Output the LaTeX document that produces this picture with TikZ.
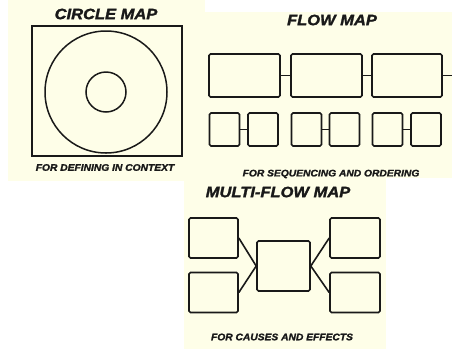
\documentclass[tikz,border=0pt]{standalone}
\usepackage{fontspec}
\setmainfont{Liberation Sans}
\newfontfamily\heavyfont[FakeBold=1.6]{Liberation Sans}
\definecolor{paper}{RGB}{254,254,232}
\definecolor{ink}{RGB}{25,25,25}
\begin{document}
\begin{tikzpicture}[x=1pt, y=-1pt,
  panel/.style={fill=paper, draw=none},
  maptitle/.style={font=\heavyfont\fontsize{15}{15}\selectfont\bfseries\itshape, text=ink, inner sep=0pt, xscale=1.1},
  caption/.style={font=\heavyfont\fontsize{9.5}{9.5}\selectfont\bfseries\itshape, text=ink, inner sep=0pt, xscale=1.08},
  frame/.style={draw=ink, line width=1.6pt, rounded corners=1.5pt, inner sep=0pt},
  link/.style={draw=ink, line width=1.6pt}]
  \useasboundingbox (0,0) rectangle (452,349);

  % Panels
  \fill[panel] (8,0) rectangle (205,181);
  \fill[panel] (205,12) rectangle (452,178);
  \fill[panel] (184,178) rectangle (386,349);

  % Circle map
  \node[maptitle] (ctitle) at (106,14) {CIRCLE MAP};
  \node[frame, rounded corners=0pt, minimum width=150pt, minimum height=130pt] (frame) at (107,91) {};
  \draw[ink, line width=1.5pt] (106,92) circle (61);
  \draw[ink, line width=1.5pt] (106,92) circle (20);
  \node[caption] (ccap) at (105,167.5) {FOR DEFINING IN CONTEXT};

  % Flow map
  \node[maptitle] (ftitle) at (332,20) {FLOW MAP};
  \node[frame, minimum width=71pt, minimum height=43pt] (step1) at (244.5,75.5) {};
  \node[frame, minimum width=71pt, minimum height=43pt] (step2) at (326.5,75.5) {};
  \node[frame, minimum width=70pt, minimum height=43pt] (step3) at (407,75.5) {};
  \coordinate (next) at (452,75.5);
  \draw[link] (step1) -- (step2);
  \draw[link] (step2) -- (step3);
  \draw[link] (step3) -- (next);

  \foreach \i/\xa/\xb in {1/224.5/263, 2/306.5/344.5, 3/387.5/426} {
    \node[frame, minimum width=30pt, minimum height=33pt] (sub\i a) at (\xa,129.5) {};
    \node[frame, minimum width=30pt, minimum height=33pt] (sub\i b) at (\xb,129.5) {};
    \draw[link] (sub\i a) -- (sub\i b);
  }
  \node[caption] (fcap) at (331,174) {FOR SEQUENCING AND ORDERING};

  % Multi-flow map
  \node[maptitle] (mtitle) at (278,192) {MULTI-FLOW MAP};
  \node[frame, minimum width=53pt, minimum height=50pt] (event) at (283.5,266) {};
  \node[frame, minimum width=49pt, minimum height=40pt] (cause1) at (213.5,238) {};
  \node[frame, minimum width=49pt, minimum height=40pt] (cause2) at (213.5,292.5) {};
  \node[frame, minimum width=50pt, minimum height=40pt] (effect1) at (355,238) {};
  \node[frame, minimum width=50pt, minimum height=40pt] (effect2) at (355,292.5) {};
  \draw[link] (cause1.east) -- (event.west);
  \draw[link] (cause2.east) -- (event.west);
  \draw[link] (event.east) -- (effect1.west);
  \draw[link] (event.east) -- (effect2.west);
  \node[caption] (mcap) at (282,337) {FOR CAUSES AND EFFECTS};
\end{tikzpicture}
\end{document}
